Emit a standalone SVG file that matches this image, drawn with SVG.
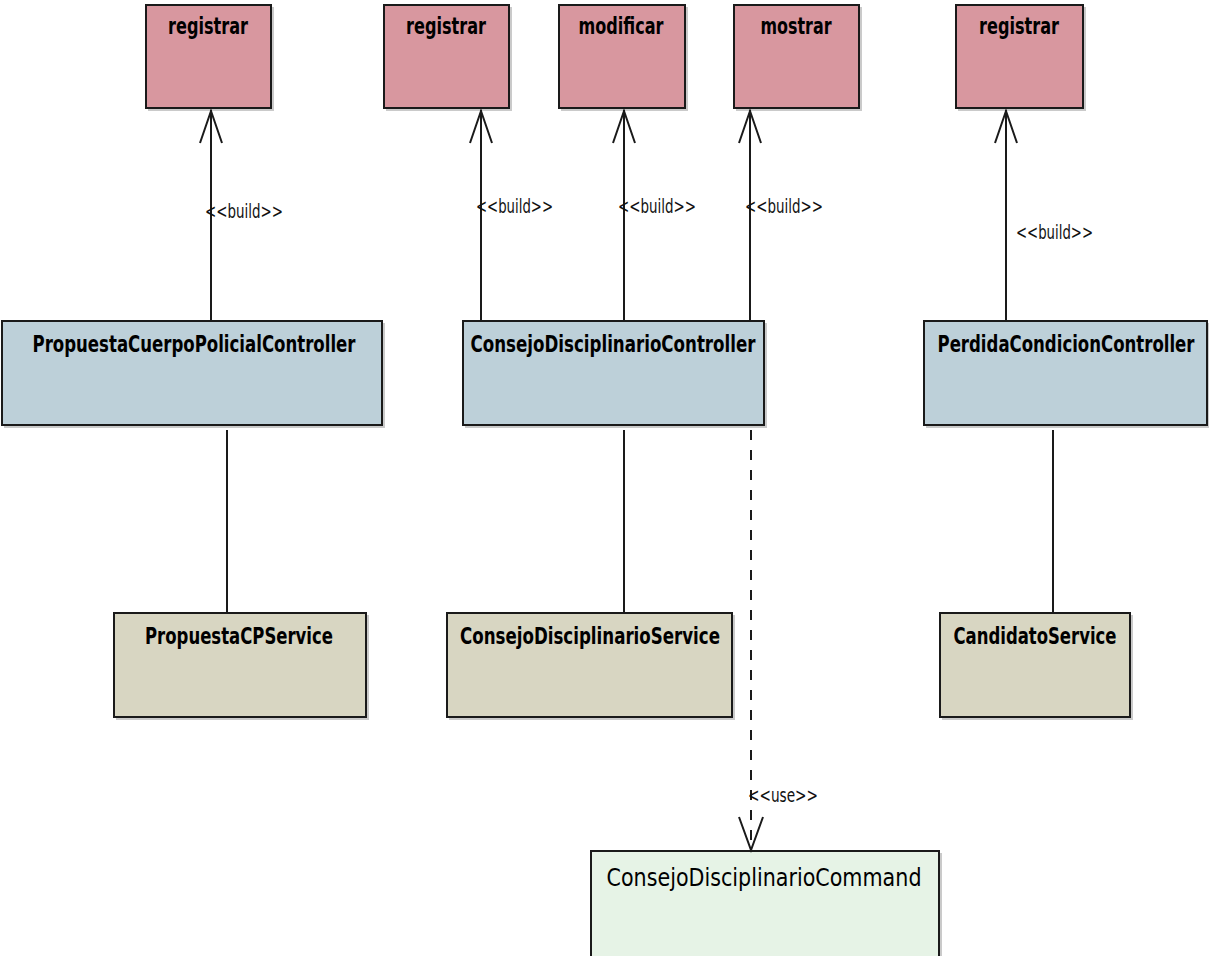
<svg xmlns="http://www.w3.org/2000/svg" width="1209" height="956" viewBox="0 0 1209 956">
  <style>
    .box { stroke: #1a1a1a; stroke-width: 2; }
    .shadow { fill: #8a8a8a; opacity: 0.45; }
    .op { fill: #d8979f; }
    .ctl { fill: #bdd0d9; }
    .svc { fill: #d8d6c2; }
    .cmd { fill: #e6f3e6; }
    .name { font-family: "DejaVu Sans", "Liberation Sans", sans-serif; font-weight: bold; font-size: 23px; fill: #000; text-anchor: middle; }
    .cname { font-family: "DejaVu Sans", "Liberation Sans", sans-serif; font-size: 25px; fill: #000; text-anchor: middle; }
    .lbl { font-family: "DejaVu Sans", "Liberation Sans", sans-serif; font-size: 19px; fill: #111; }
    .line { stroke: #1a1a1a; stroke-width: 2; fill: none; }
    .dash { stroke: #1a1a1a; stroke-width: 2; fill: none; stroke-dasharray: 10 10; }
    .head { stroke: #1a1a1a; stroke-width: 2; fill: none; stroke-linejoin: miter; }
  </style>

  <!-- operation boxes -->
  <g id="op-registrar-1">
    <rect class="shadow" x="148" y="7" width="126" height="104"/>
    <rect class="box op" x="146" y="5" width="125" height="103"/>
    <text class="name" x="208" y="34" textLength="80" lengthAdjust="spacingAndGlyphs">registrar</text>
  </g>
  <g id="op-registrar-2">
    <rect class="shadow" x="386" y="7" width="126" height="104"/>
    <rect class="box op" x="384" y="5" width="125" height="103"/>
    <text class="name" x="446" y="34" textLength="80" lengthAdjust="spacingAndGlyphs">registrar</text>
  </g>
  <g id="op-modificar">
    <rect class="shadow" x="561" y="7" width="127" height="104"/>
    <rect class="box op" x="559" y="5" width="126" height="103"/>
    <text class="name" x="621" y="34" textLength="85" lengthAdjust="spacingAndGlyphs">modificar</text>
  </g>
  <g id="op-mostrar">
    <rect class="shadow" x="736" y="7" width="126" height="104"/>
    <rect class="box op" x="734" y="5" width="125" height="103"/>
    <text class="name" x="796" y="34" textLength="71" lengthAdjust="spacingAndGlyphs">mostrar</text>
  </g>
  <g id="op-registrar-3">
    <rect class="shadow" x="958" y="7" width="128" height="104"/>
    <rect class="box op" x="956" y="5" width="127" height="103"/>
    <text class="name" x="1019" y="34" textLength="80" lengthAdjust="spacingAndGlyphs">registrar</text>
  </g>

  <!-- controllers -->
  <g id="PropuestaCuerpoPolicialController">
    <rect class="shadow" x="4" y="323" width="381" height="105"/>
    <rect class="box ctl" x="2" y="321" width="380" height="104"/>
    <text class="name" x="194" y="352" textLength="323" lengthAdjust="spacingAndGlyphs">PropuestaCuerpoPolicialController</text>
  </g>
  <g id="ConsejoDisciplinarioController">
    <rect class="shadow" x="465" y="323" width="302" height="105"/>
    <rect class="box ctl" x="463" y="321" width="301" height="104"/>
    <text class="name" x="613" y="352" textLength="285" lengthAdjust="spacingAndGlyphs">ConsejoDisciplinarioController</text>
  </g>
  <g id="PerdidaCondicionController">
    <rect class="shadow" x="926" y="323" width="283" height="105"/>
    <rect class="box ctl" x="924" y="321" width="283" height="104"/>
    <text class="name" x="1066" y="352" textLength="257" lengthAdjust="spacingAndGlyphs">PerdidaCondicionController</text>
  </g>

  <!-- services -->
  <g id="PropuestaCPService">
    <rect class="shadow" x="116" y="615" width="253" height="105"/>
    <rect class="box svc" x="114" y="613" width="252" height="104"/>
    <text class="name" x="239" y="644" textLength="188" lengthAdjust="spacingAndGlyphs">PropuestaCPService</text>
  </g>
  <g id="ConsejoDisciplinarioService">
    <rect class="shadow" x="449" y="615" width="286" height="105"/>
    <rect class="box svc" x="447" y="613" width="285" height="104"/>
    <text class="name" x="590" y="644" textLength="260" lengthAdjust="spacingAndGlyphs">ConsejoDisciplinarioService</text>
  </g>
  <g id="CandidatoService">
    <rect class="shadow" x="942" y="615" width="191" height="105"/>
    <rect class="box svc" x="940" y="613" width="190" height="104"/>
    <text class="name" x="1035" y="644" textLength="163" lengthAdjust="spacingAndGlyphs">CandidatoService</text>
  </g>

  <!-- command -->
  <g id="ConsejoDisciplinarioCommand">
    <rect class="shadow" x="593" y="853" width="349" height="106"/>
    <rect class="box cmd" x="591" y="851" width="348" height="106"/>
    <text class="cname" x="764" y="886" textLength="315" lengthAdjust="spacingAndGlyphs">ConsejoDisciplinarioCommand</text>
  </g>

  <!-- connectors -->
  <g id="connectors">
    <!-- build dependencies: controller up to operation -->
    <line class="line" x1="211" y1="321" x2="211" y2="110"/>
    <polyline class="head" points="200,143 211,111 222,143"/>
    <text class="lbl" x="205" y="218" textLength="78" lengthAdjust="spacingAndGlyphs">&lt;&lt;build&gt;&gt;</text>

    <line class="line" x1="481" y1="321" x2="481" y2="110"/>
    <polyline class="head" points="470,143 481,111 492,143"/>
    <text class="lbl" x="476" y="213" textLength="77" lengthAdjust="spacingAndGlyphs">&lt;&lt;build&gt;&gt;</text>

    <line class="line" x1="624" y1="321" x2="624" y2="110"/>
    <polyline class="head" points="613,143 624,111 635,143"/>
    <text class="lbl" x="618" y="213" textLength="78" lengthAdjust="spacingAndGlyphs">&lt;&lt;build&gt;&gt;</text>

    <line class="line" x1="750" y1="321" x2="750" y2="110"/>
    <polyline class="head" points="739,143 750,111 761,143"/>
    <text class="lbl" x="745" y="213" textLength="78" lengthAdjust="spacingAndGlyphs">&lt;&lt;build&gt;&gt;</text>

    <line class="line" x1="1006" y1="321" x2="1006" y2="110"/>
    <polyline class="head" points="995,143 1006,111 1017,143"/>
    <text class="lbl" x="1016" y="239" textLength="77" lengthAdjust="spacingAndGlyphs">&lt;&lt;build&gt;&gt;</text>

    <!-- associations: controller to service -->
    <line class="line" x1="227" y1="430" x2="227" y2="613"/>
    <line class="line" x1="624" y1="430" x2="624" y2="613"/>
    <line class="line" x1="1053" y1="430" x2="1053" y2="613"/>

    <!-- use dependency: controller to command -->
    <line class="dash" x1="751" y1="430" x2="751" y2="850"/>
    <polyline class="head" points="739,817 751,850 763,817"/>
    <text class="lbl" x="748" y="802" textLength="70" lengthAdjust="spacingAndGlyphs">&lt;&lt;use&gt;&gt;</text>
  </g>
</svg>
